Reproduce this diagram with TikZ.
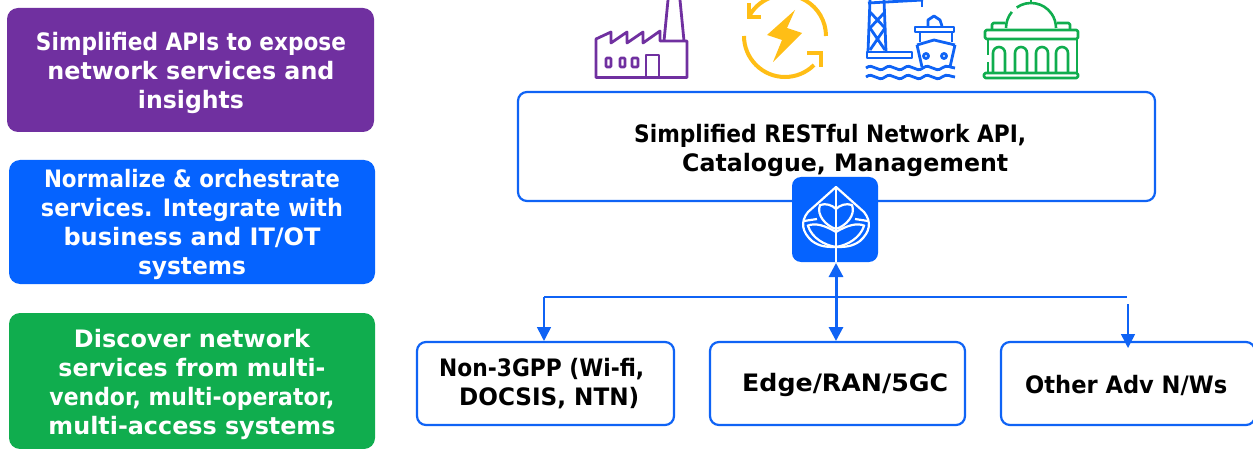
\documentclass[tikz,border=0pt]{standalone}
\usepackage{graphicx}
\usepackage{fontspec}
\setmainfont{DejaVu Sans}
\usetikzlibrary{arrows.meta}
\definecolor{cpurple}{HTML}{7030A0}
\definecolor{cblue}{HTML}{0563FF}
\definecolor{cgreen}{HTML}{10AD4E}
\definecolor{cyellow}{HTML}{FFBE16}
\definecolor{cline}{HTML}{0F63F5}
\newcommand{\fitw}[2]{\resizebox{#1pt}{\height}{#2}}
\tikzset{
  x=1pt,y=-1pt,
  leftbox/.style={rounded corners=11pt,line width=0pt},
  lefttext/.style={text=white,font=\fontsize{24}{29}\selectfont\bfseries,align=center,inner sep=0pt},
  netbox/.style={draw=cline,line width=2.2pt,rounded corners=9pt,fill=white},
  nettext/.style={text=black,font=\fontsize{24}{29}\selectfont\bfseries,align=left,inner sep=0pt},
  link/.style={draw=cline,line width=2pt},
  tip/.style={-{Triangle[length=14pt,width=14pt]}},
  iconp/.style={draw=cpurple,line width=2.8pt,line join=round,fill=none},
  icony/.style={draw=cyellow,line width=4pt,fill=none},
  iconb/.style={draw=cline,line width=2.8pt,line join=round,fill=none},
  icong/.style={draw=cgreen,line width=2.6pt,line join=round,fill=none},
  leaf/.style={draw=white,line width=2.2pt,fill=none,line join=round},
}
\begin{document}
\begin{tikzpicture}
\useasboundingbox (0,0) rectangle (1253,449);
% left panels
\fill[cpurple,leftbox] (7,8) rectangle (374,132);
\fill[cblue,leftbox] (9,160) rectangle (375,284);
\fill[cgreen,leftbox] (9,313) rectangle (375,449);
\node[lefttext] (t1) at (191,72.5) {\fitw{310}{Simplified APIs to expose}\\\fitw{287}{network services and}\\\fitw{106}{insights}};
\node[lefttext] (t2) at (192,224) {\fitw{296}{Normalize \& orchestrate}\\\fitw{302}{services. Integrate with}\\\fitw{257}{business and IT/OT}\\\fitw{108}{systems}};
\node[lefttext] (t3) at (192,384) {\fitw{236}{Discover network}\\\fitw{267}{services from multi-}\\\fitw{285}{vendor, multi-operator,}\\\fitw{287}{multi-access systems}};
% main box
\draw[netbox] (518,92) rectangle (1155,201);
\node[nettext,anchor=west] (tm) at (634,150) {\fitw{392}{Simplified RESTful Network API,}\\\hspace*{48pt}\fitw{326}{Catalogue, Management}};
% bottom boxes
\node[netbox,minimum width=257pt,minimum height=83pt,inner sep=0pt] (b1) at (545.5,383.5) {};
\node[netbox,minimum width=255pt,minimum height=83pt,inner sep=0pt] (b2) at (837.5,383.5) {};
\node[netbox,minimum width=254pt,minimum height=83pt,inner sep=0pt] (b3) at (1128,383.5) {};
\node[nettext,anchor=west] (tb1) at (439,384) {\fitw{205}{Non-3GPP (Wi-fi,}\\\hspace*{20pt}\fitw{180}{DOCSIS, NTN)}};
\node[nettext,anchor=west] (tb2) at (742,385) {\fitw{206}{Edge/RAN/5GC}};
\node[nettext,anchor=west] (tb3) at (1025,385) {\fitw{202}{Other Adv N/Ws}};
% logo
\node[fill=cblue,rounded corners=9pt,minimum width=86pt,minimum height=85pt,inner sep=0pt] (logo) at (835,219.5) {};
\draw[leaf] (836,187) -- (808,212) .. controls (800,222) and (802,232) .. (812,241) .. controls (820,247) and (828,247) .. (836,247) .. controls (844,247) and (852,247) .. (860,241) .. controls (870,232) and (872,222) .. (864,212) -- cycle;
\draw[leaf] (836,187) -- (836,262);
\draw[leaf] (836,229) .. controls (826,226) and (816,215) .. (820,205) .. controls (826,203) and (832,205) .. (836,209);
\draw[leaf] (836,229) .. controls (846,226) and (856,215) .. (852,205) .. controls (846,203) and (840,205) .. (836,209);
\draw[leaf] (804,221) -- (817,219);
\draw[leaf] (868,221) -- (855,219);
\draw[leaf] (807,226) .. controls (815,222) and (826,226) .. (836,232);
\draw[leaf] (865,226) .. controls (857,222) and (846,226) .. (836,232);
\draw[leaf] (808,226) .. controls (812,238) and (824,245) .. (836,247);
\draw[leaf] (864,226) .. controls (860,238) and (848,245) .. (836,247);
% connectors
\coordinate (hl) at (544,297);
\coordinate (hr) at (1127,297);
\coordinate (hd) at (1128,304);
\coordinate (e1) at (544,341);
\coordinate (e3) at (1128,348);
\coordinate (ct) at (836,263);
\coordinate (cb) at (836,341);
\draw[link] (hr) -- (hl);
\draw[link,line width=1.6pt,tip] (hl) -- (e1);
\draw[link,line width=1.5pt,tip] (hd) -- (e3);
\draw[link,line width=3pt,{Triangle[length=14pt,width=14pt]}-{Triangle[length=14pt,width=14pt]}] (ct) -- (cb);
% factory icon
\draw[iconp] (596,77.5) -- (596,39) -- (611,32) -- (611,43) -- (627,32) -- (627,43) -- (643,32) -- (643,43) -- (660,31) -- (660,41) -- (687,41) -- (687,77.5) -- cycle;
\draw[iconp] (664,41) -- (668,0) (680,0) -- (684,41);
\draw[iconp] (646,77.5) -- (646,55) -- (659,55) -- (659,77.5);
\draw[iconp,rounded corners=1pt] (606,58) rectangle (611,67) (620,58) rectangle (625,67) (632,58) rectangle (638,67);
% energy icon
\draw[icony] (785,36) ++(-150:41) arc (-150:0:41);
\draw[icony] (785,36) ++(180:41) arc (180:45:41);
\draw[icony] (749,3) -- (749,17) -- (761,17);
\draw[icony] (821,67) -- (821,53) -- (807,53);
\fill[cyellow] (795,10) -- (767,35) -- (782,40) -- (773,62) -- (802,33) -- (787,28) -- cycle;
% port icon
\draw[iconb] (868,3) -- (923,0);
\draw[iconb] (922,0) -- (922,7);
\draw[iconb] (870,0) -- (868,52) (884,0) -- (886,52);
\draw[iconb] (870,12) -- (885,28) -- (870,50) (885,12) -- (870,28) -- (885,50);
\draw[iconb] (867,52) rectangle (912,58);
\draw[iconb] (915,27) rectangle (954,32);
\draw[iconb] (928,26) -- (928,20) -- (934,16) -- (940,20) -- (942,26);
\draw[iconb] (920,32) -- (920,42) (952,32) -- (952,42);
\draw[iconb] (917,45) -- (934,40) -- (955,45) (917,45) -- (922,67) (955,45) -- (950,67);
\draw[iconb] (926,56) circle (2.5) (944,56) circle (2.5);
\draw[iconb] (866,68) .. controls (873,62) and (878,74) .. (885,68) .. controls (892,62) and (897,74) .. (904,68) .. controls (911,62) and (916,74) .. (923,68) .. controls (930,62) and (935,74) .. (942,68) .. controls (947,64) and (951,68) .. (955,68);
\draw[iconb] (866,77) .. controls (873,71) and (878,83) .. (885,77) .. controls (892,71) and (897,83) .. (904,77) .. controls (911,71) and (916,83) .. (923,77) .. controls (930,71) and (935,83) .. (942,77) .. controls (947,73) and (951,77) .. (955,77);
% museum icon
\draw[icong,rounded corners=1.5pt] (985,30) rectangle (1078,39);
\draw[icong] (1031,28) ++(180:25) arc (180:220:25);
\draw[icong] (1031,28) ++(-125:25) arc (-125:0:25);
\draw[icong] (1031,3) -- (1031,0);
\draw[icong,rounded corners=1.5pt] (992,29) -- (992,23) -- (1005,23);
\draw[icong,rounded corners=1.5pt] (1057,23) -- (1070,23) -- (1070,29);
\draw[icong] (988,39) -- (988,55) (988,62) -- (988,73) (1077,39) -- (1077,73);
\draw[icong,rounded corners=1.5pt] (984,73) rectangle (1078,78);
\foreach \ax in {999,1021,1042,1062}{
  \draw[icong] (\ax-6,72) -- (\ax-6,53) arc (180:360:6) -- (\ax+6,72);
}
\end{tikzpicture}
\end{document}
